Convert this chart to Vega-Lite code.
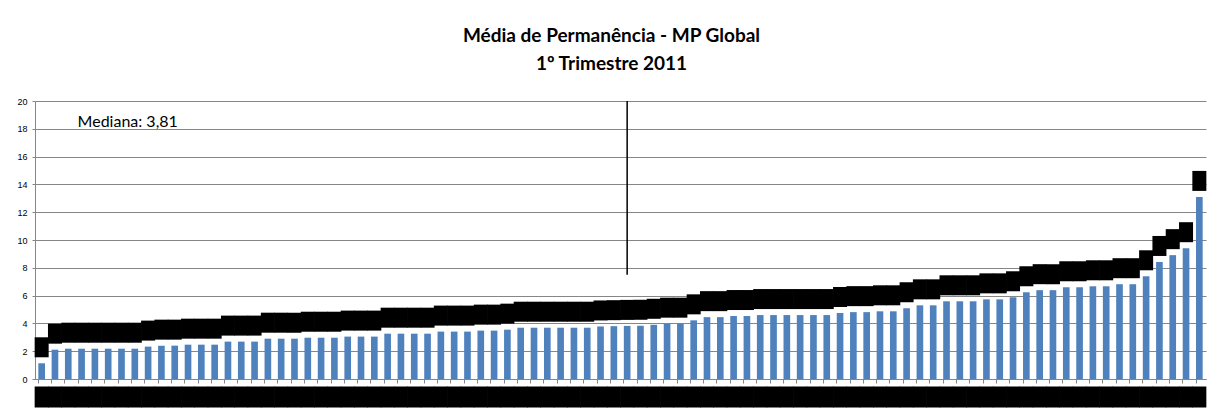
{
  "$schema": "https://vega.github.io/schema/vega-lite/v6.json",
  "width": 1171,
  "height": 278,
  "autosize": {"type": "none"},
  "padding": {"left": 35, "top": 101, "right": 1, "bottom": 40},
  "background": "white",
  "title": {
    "text": ["Média de Permanência - MP Global", "1º Trimestre 2011"],
    "font": "Lato",
    "fontSize": 19,
    "fontWeight": "bold",
    "color": "#000000",
    "lineHeight": 28,
    "anchor": "middle",
    "dx": -9,
    "offset": 23
  },
  "config": {
    "view": {"stroke": null},
    "axis": {"labelFont": "Liberation Sans", "labelFontSize": 9, "labelColor": "#000000"},
    "axisY": {
      "title": null,
      "labelOverlap": false,
      "labelFlush": false,
      "grid": true,
      "gridColor": "#868686",
      "domainColor": "#868686",
      "tickColor": "#868686",
      "tickSize": 3,
      "labelPadding": 5
    },
    "axisX": {
      "title": null,
      "labels": false,
      "ticks": true,
      "bandPosition": 0,
      "tickSize": 4,
      "tickColor": "#868686",
      "domainColor": "#868686",
      "grid": false
    }
  },
  "datasets": {
    "bars": [
      {"i": 1, "v": 1.13}, {"i": 2, "v": 2.11}, {"i": 3, "v": 2.18}, {"i": 4, "v": 2.18},
      {"i": 5, "v": 2.18}, {"i": 6, "v": 2.18}, {"i": 7, "v": 2.18}, {"i": 8, "v": 2.18},
      {"i": 9, "v": 2.33}, {"i": 10, "v": 2.4}, {"i": 11, "v": 2.4}, {"i": 12, "v": 2.47},
      {"i": 13, "v": 2.47}, {"i": 14, "v": 2.47}, {"i": 15, "v": 2.69}, {"i": 16, "v": 2.69},
      {"i": 17, "v": 2.69}, {"i": 18, "v": 2.9}, {"i": 19, "v": 2.9}, {"i": 20, "v": 2.9},
      {"i": 21, "v": 2.97}, {"i": 22, "v": 2.97}, {"i": 23, "v": 2.97}, {"i": 24, "v": 3.05},
      {"i": 25, "v": 3.05}, {"i": 26, "v": 3.05}, {"i": 27, "v": 3.26}, {"i": 28, "v": 3.26},
      {"i": 29, "v": 3.26}, {"i": 30, "v": 3.26}, {"i": 31, "v": 3.41}, {"i": 32, "v": 3.41},
      {"i": 33, "v": 3.41}, {"i": 34, "v": 3.48}, {"i": 35, "v": 3.48}, {"i": 36, "v": 3.55},
      {"i": 37, "v": 3.69}, {"i": 38, "v": 3.69}, {"i": 39, "v": 3.69}, {"i": 40, "v": 3.69},
      {"i": 41, "v": 3.69}, {"i": 42, "v": 3.69}, {"i": 43, "v": 3.78}, {"i": 44, "v": 3.8},
      {"i": 45, "v": 3.82}, {"i": 46, "v": 3.83}, {"i": 47, "v": 3.9}, {"i": 48, "v": 3.98},
      {"i": 49, "v": 3.98}, {"i": 50, "v": 4.22}, {"i": 51, "v": 4.45}, {"i": 52, "v": 4.45},
      {"i": 53, "v": 4.53}, {"i": 54, "v": 4.53}, {"i": 55, "v": 4.6}, {"i": 56, "v": 4.6},
      {"i": 57, "v": 4.6}, {"i": 58, "v": 4.6}, {"i": 59, "v": 4.6}, {"i": 60, "v": 4.6},
      {"i": 61, "v": 4.75}, {"i": 62, "v": 4.81}, {"i": 63, "v": 4.81}, {"i": 64, "v": 4.87},
      {"i": 65, "v": 4.87}, {"i": 66, "v": 5.09}, {"i": 67, "v": 5.3}, {"i": 68, "v": 5.3},
      {"i": 69, "v": 5.59}, {"i": 70, "v": 5.59}, {"i": 71, "v": 5.59}, {"i": 72, "v": 5.73},
      {"i": 73, "v": 5.73}, {"i": 74, "v": 5.88}, {"i": 75, "v": 6.24}, {"i": 76, "v": 6.39},
      {"i": 77, "v": 6.39}, {"i": 78, "v": 6.6}, {"i": 79, "v": 6.6}, {"i": 80, "v": 6.67},
      {"i": 81, "v": 6.67}, {"i": 82, "v": 6.82}, {"i": 83, "v": 6.82}, {"i": 84, "v": 7.39},
      {"i": 85, "v": 8.42}, {"i": 86, "v": 8.91}, {"i": 87, "v": 9.41}, {"i": 88, "v": 13.1}
    ],
    "note": [{"label": "Mediana: 3,81", "pos": 4, "y": 18.5, "median": 45, "y1": 7.5, "y2": 20}]
  },
  "layer": [
    {
      "data": {"name": "bars"},
      "mark": {"type": "bar", "color": "#4F81BD"},
      "encoding": {
        "x": {"field": "i", "type": "ordinal", "scale": {"paddingInner": 0.5, "paddingOuter": 0.25}, "axis": {"labels": false}},
        "y": {"field": "v", "type": "quantitative", "scale": {"domain": [0, 20], "nice": false}, "axis": {"values": [0, 2, 4, 6, 8, 10, 12, 14, 16, 18, 20]}}
      }
    },
    {
      "data": {"name": "bars"},
      "mark": {"type": "tick", "color": "#000000", "thickness": 20, "size": 14, "yOffset": -16, "opacity": 1},
      "encoding": {
        "x": {"field": "i", "type": "ordinal", "axis": {"labels": false}},
        "y": {"field": "v", "type": "quantitative", "axis": {"values": [0, 2, 4, 6, 8, 10, 12, 14, 16, 18, 20]}}
      }
    },
    {
      "data": {"name": "bars"},
      "mark": {"type": "tick", "color": "#000000", "thickness": 21, "size": 14, "yOffset": 18, "opacity": 1},
      "encoding": {
        "x": {"field": "i", "type": "ordinal", "axis": {"labels": false}},
        "y": {"datum": 0, "type": "quantitative", "axis": {"values": [0, 2, 4, 6, 8, 10, 12, 14, 16, 18, 20]}}
      }
    },
    {
      "data": {"name": "note"},
      "mark": {"type": "rule", "color": "#000000", "strokeWidth": 1.5},
      "encoding": {
        "x": {"field": "median", "type": "ordinal", "axis": {"labels": false}},
        "y": {"field": "y1", "type": "quantitative", "axis": {"values": [0, 2, 4, 6, 8, 10, 12, 14, 16, 18, 20]}},
        "y2": {"field": "y2"}
      }
    },
    {
      "data": {"name": "note"},
      "mark": {"type": "text", "font": "Lato", "fontSize": 16, "align": "left", "baseline": "middle", "dx": -4, "color": "#000000"},
      "encoding": {
        "x": {"field": "pos", "type": "ordinal", "axis": {"labels": false}},
        "y": {"field": "y", "type": "quantitative", "axis": {"values": [0, 2, 4, 6, 8, 10, 12, 14, 16, 18, 20]}},
        "text": {"field": "label"}
      }
    }
  ]
}
